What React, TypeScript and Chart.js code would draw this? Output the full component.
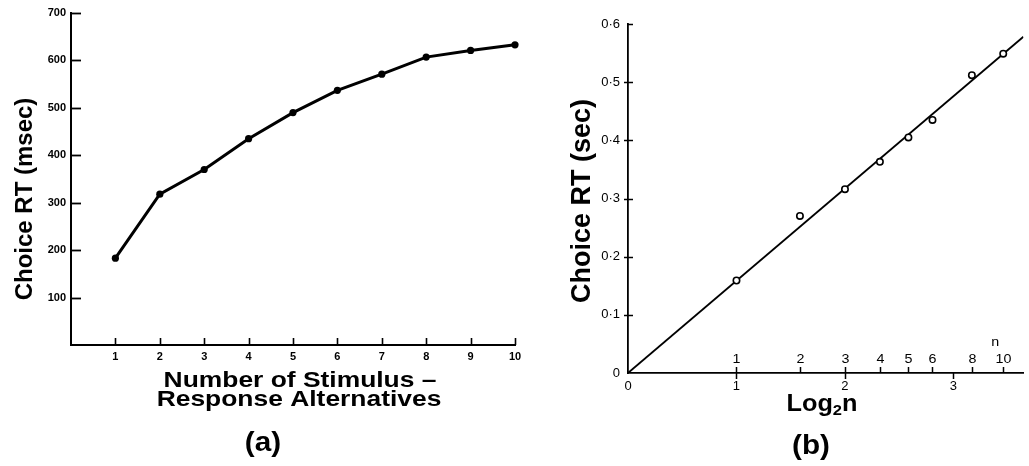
import React, { useEffect, useRef } from "react";
import { Chart, registerables } from "chart.js";

Chart.register(...registerables);

// ---------- data: panel (a) ----------
const alternatives = [1, 2, 3, 4, 5, 6, 7, 8, 9, 10];
const choiceRtMsec = [183, 318, 370, 435, 490, 537, 571, 607, 621, 633];
const msecTicks = [100, 200, 300, 400, 500, 600, 700];
const alternativeTicks = [1, 2, 3, 4, 5, 6, 7, 8, 9, 10];

// ---------- data: panel (b) ----------
const nValues = [1, 2, 3, 4, 5, 6, 8, 10];
const log2Values = [1, 1.585, 2, 2.322, 2.585, 2.807, 3.17, 3.459];
const choiceRtSec = [0.159, 0.27, 0.316, 0.363, 0.405, 0.435, 0.512, 0.549];
const fitLog2 = [0, 3.645];
const fitSec = [0, 0.578];
const secTicks = [0, 0.1, 0.2, 0.3, 0.4, 0.5, 0.6];
const log2Ticks = [0, 1, 2, 3];

const FONT = "'Liberation Sans', Arial, Helvetica, sans-serif";

type TextSpec = {
  text: string;
  x: number;
  y: number;
  size: number;
  weight?: string;
  align?: CanvasTextAlign;
  baseline?: CanvasTextBaseline;
  rotate?: number;
  sx?: number;
};

function drawText(ctx: CanvasRenderingContext2D, s: TextSpec) {
  ctx.save();
  ctx.translate(s.x, s.y);
  ctx.scale(s.sx ?? 1, 1);
  if (s.rotate) ctx.rotate(s.rotate);
  ctx.font = `${s.weight ?? "bold"} ${s.size}px ${FONT}`;
  ctx.fillStyle = "#000";
  ctx.textAlign = s.align ?? "center";
  ctx.textBaseline = s.baseline ?? "middle";
  ctx.fillText(s.text, 0, 0);
  ctx.restore();
}

function line(ctx: CanvasRenderingContext2D, x1: number, y1: number, x2: number, y2: number, w: number) {
  ctx.beginPath();
  ctx.lineWidth = w;
  ctx.strokeStyle = "#000";
  ctx.moveTo(x1, y1);
  ctx.lineTo(x2, y2);
  ctx.stroke();
}

const panelAPlugin = {
  id: "panelA",
  afterDraw(chart: any) {
    const ctx: CanvasRenderingContext2D = chart.ctx;
    const { left, bottom } = chart.chartArea;
    const xs = chart.scales.x;
    const ys = chart.scales.y;
    for (const v of msecTicks) {
      const y = Math.round(ys.getPixelForValue(v)) + 0.5;
      line(ctx, left, y, left + 10, y, 1.8);
    }
    for (const v of alternativeTicks) {
      const x = Math.round(xs.getPixelForValue(v)) + 0.5;
      line(ctx, x, bottom, x, bottom - 7, 1.6);
    }
    drawText(ctx, { text: "Choice RT (msec)", x: 25, y: 199, size: 24, rotate: -Math.PI / 2, sx: 1.0 });
    drawText(ctx, { text: "Number of Stimulus \u2013", x: 300, y: 387, size: 22, baseline: "alphabetic", sx: 1.2 });
    drawText(ctx, { text: "Response Alternatives", x: 299, y: 406, size: 22, baseline: "alphabetic", sx: 1.2 });
    drawText(ctx, { text: "(a)", x: 263, y: 444, size: 27, sx: 1.1 });
  },
};

const panelBPlugin = {
  id: "panelB",
  afterDraw(chart: any) {
    const ctx: CanvasRenderingContext2D = chart.ctx;
    const { left, bottom } = chart.chartArea;
    const xs = chart.scales.x;
    const ys = chart.scales.y;
    const top = secTicks[secTicks.length - 1];
    for (const v of secTicks) {
      if (v === 0) continue;
      const y = Math.round(ys.getPixelForValue(v)) + 0.5;
      line(ctx, v === top ? left : left - 4, y, left + 5, y, 1.5);
    }
    for (const v of log2Ticks) {
      if (v === 0) continue;
      const x = Math.round(xs.getPixelForValue(v)) + 0.5;
      line(ctx, x, bottom, x, bottom + 6, 1.5);
    }
    log2Values.forEach((v, i) => {
      const x = Math.round(xs.getPixelForValue(v)) + 0.5;
      line(ctx, x, bottom, x, bottom - 6, 1.5);
      drawText(ctx, { text: String(nValues[i]), x, y: bottom - 14, size: 13, weight: "normal", sx: 1.1 });
    });
    const lastX = xs.getPixelForValue(log2Values[log2Values.length - 1]);
    drawText(ctx, { text: "n", x: lastX - 8, y: bottom - 31, size: 13, weight: "normal", sx: 1.1 });

    drawText(ctx, { text: "Choice RT (sec)", x: 53, y: 201, size: 27, rotate: -Math.PI / 2 });

    // Log2n title with subscript
    ctx.save();
    const base = 411;
    const sx = 1.1;
    ctx.font = `bold 23px ${FONT}`;
    const wLog = ctx.measureText("Log").width;
    const wN = ctx.measureText("n").width;
    ctx.font = `bold 15px ${FONT}`;
    const w2 = ctx.measureText("2").width;
    const total = (wLog + w2 + wN) * sx;
    let x0 = 292 - total / 2;
    drawText(ctx, { text: "Log", x: x0, y: base, size: 23, align: "left", baseline: "alphabetic", sx });
    x0 += wLog * sx;
    drawText(ctx, { text: "2", x: x0, y: base + 4, size: 15, align: "left", baseline: "alphabetic", sx });
    x0 += w2 * sx;
    drawText(ctx, { text: "n", x: x0, y: base, size: 23, align: "left", baseline: "alphabetic", sx });
    ctx.restore();

    drawText(ctx, { text: "(b)", x: 281, y: 447, size: 27, sx: 1.1 });
  },
};

export default function App() {
  const refA = useRef<HTMLCanvasElement | null>(null);
  const refB = useRef<HTMLCanvasElement | null>(null);

  useEffect(() => {
    const chartA = new Chart(refA.current as HTMLCanvasElement, {
      type: "line",
      data: {
        datasets: [
          {
            data: alternatives.map((x, i) => ({ x, y: choiceRtMsec[i] })),
            borderColor: "#000",
            borderWidth: 3,
            pointRadius: 3.6,
            pointBackgroundColor: "#000",
            pointBorderColor: "#000",
            pointBorderWidth: 0,
            tension: 0,
            clip: false,
          },
        ],
      },
      options: {
        animation: false,
        responsive: false,
        maintainAspectRatio: false,
        layout: { padding: { left: 0, top: 13, right: 15, bottom: 0 } },
        plugins: { legend: { display: false }, tooltip: { enabled: false } },
        scales: {
          x: {
            type: "linear",
            min: 0,
            max: 10,
            afterBuildTicks: (s: any) => {
              s.ticks = alternativeTicks.map((v) => ({ value: v }));
            },
            afterFit: (s: any) => {
              s.height = 121;
            },
            grid: { display: false, drawTicks: false },
            border: { display: true, color: "#000", width: 2 },
            ticks: {
              padding: 5,
              color: "#000",
              autoSkip: false,
              maxRotation: 0,
              font: { family: FONT, size: 11, weight: "bold" },
            },
          },
          y: {
            type: "linear",
            min: 0,
            max: 700,
            afterBuildTicks: (s: any) => {
              s.ticks = msecTicks.map((v) => ({ value: v }));
            },
            afterFit: (s: any) => {
              s.width = 71;
            },
            grid: { display: false, drawTicks: false },
            border: { display: true, color: "#000", width: 2 },
            ticks: {
              padding: 5,
              color: "#000",
              font: { family: FONT, size: 11, weight: "bold" },
            },
          },
        },
      } as any,
      plugins: [panelAPlugin],
    });

    const chartB = new Chart(refB.current as HTMLCanvasElement, {
      type: "scatter",
      data: {
        datasets: [
          {
            data: log2Values.map((x, i) => ({ x, y: choiceRtSec[i] })),
            pointRadius: 3.2,
            pointBorderWidth: 1.6,
            pointBorderColor: "#000",
            pointBackgroundColor: "#fff",
            showLine: false,
            clip: false,
          },
          {
            data: fitLog2.map((x, i) => ({ x, y: fitSec[i] })),
            showLine: true,
            borderColor: "#000",
            borderWidth: 1.8,
            pointRadius: 0,
          },
        ],
      },
      options: {
        animation: false,
        responsive: false,
        maintainAspectRatio: false,
        layout: { padding: { left: 0, top: 24, right: 0, bottom: 0 } },
        plugins: { legend: { display: false }, tooltip: { enabled: false } },
        scales: {
          x: {
            type: "linear",
            min: fitLog2[0],
            max: fitLog2[1],
            afterBuildTicks: (s: any) => {
              s.ticks = log2Ticks.map((v) => ({ value: v }));
            },
            afterFit: (s: any) => {
              s.height = 93;
            },
            grid: { display: false, drawTicks: false },
            border: { display: true, color: "#000", width: 1.8 },
            ticks: {
              padding: 6,
              color: "#000",
              font: { family: FONT, size: 13 },
            },
          },
          y: {
            type: "linear",
            min: 0,
            max: 0.6,
            afterBuildTicks: (s: any) => {
              s.ticks = secTicks.map((v) => ({ value: v }));
            },
            afterFit: (s: any) => {
              s.width = 98;
            },
            grid: { display: false, drawTicks: false },
            border: { display: true, color: "#000", width: 1.8 },
            ticks: {
              padding: 8,
              color: "#000",
              font: { family: FONT, size: 13 },
              callback: (v: any) => (Number(v) === 0 ? "0" : Number(v).toFixed(1).replace(".", "\u00b7")),
            },
          },
        },
      } as any,
      plugins: [panelBPlugin],
    });

    return () => {
      chartA.destroy();
      chartB.destroy();
    };
  }, []);

  return (
    <div style={{ position: "absolute", left: 0, top: 0, width: 1029, height: 466, background: "#fff" }}>
      <canvas ref={refA} width={530} height={466} style={{ position: "absolute", left: 0, top: 0 }} />
      <canvas ref={refB} width={499} height={466} style={{ position: "absolute", left: 530, top: 0 }} />
    </div>
  );
}
